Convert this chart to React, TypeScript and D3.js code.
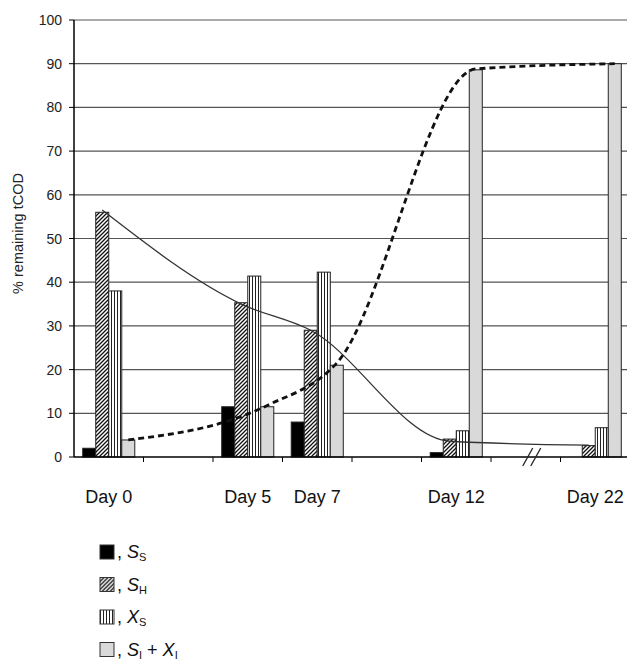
import { useEffect, useRef } from 'react';
import * as d3 from 'd3';

// slot layout on the category axis (empty slots keep the day spacing)
const slotLabels = ['Day 0', '', 'Day 5', 'Day 7', '', 'Day 12', '', 'Day 22'];
const daySlots = [0, 2, 3, 5, 7];

const seriesKeys = ['ss', 'sh', 'xs', 'sixi'];
const ssValues = [2, 11.5, 8, 1, 0];
const shValues = [56, 35.3, 29, 4.1, 2.6];
const xsValues = [38, 41.4, 42.3, 6, 6.7];
const sixiValues = [3.9, 11.5, 21, 88.6, 90];

// model curves
const solidLine = [56.5, 35, 29, 3.6, 2.7]; // drawn through S_H bars
const dashedLine = [3.9, 11.8, 21.5, 88.8, 90]; // drawn through S_I + X_I bars

const yTicks = [0, 10, 20, 30, 40, 50, 60, 70, 80, 90, 100];

const legendItems = [
    { key: 'ss', parts: [{ t: 'S', sub: 'S' }] },
    { key: 'sh', parts: [{ t: 'S', sub: 'H' }] },
    { key: 'xs', parts: [{ t: 'X', sub: 'S' }] },
    { key: 'sixi', parts: [{ t: 'S', sub: 'I' }, { t: ' + ', sub: '' }, { t: 'X', sub: 'I' }] },
];

const width = 627;
const height = 662;
const plot = { left: 74, right: 630, top: 20, bottom: 457 };
const font = "'Liberation Sans', Arial, sans-serif";

const fills: Record<string, string> = {
    ss: '#000',
    sh: 'url(#hatch)',
    xs: 'url(#vstripe)',
    sixi: '#d9d9d9',
};

const App = () => {
    const svgRef = useRef<SVGSVGElement>(null);

    useEffect(() => {
        const root = d3.select(svgRef.current);
        root.selectAll('*').remove();
        root.attr('width', width).attr('height', height);

        const defs = root.append('defs');
        const hatch = defs
            .append('pattern')
            .attr('id', 'hatch')
            .attr('patternUnits', 'userSpaceOnUse')
            .attr('width', 4)
            .attr('height', 4);
        hatch.append('rect').attr('width', 4).attr('height', 4).attr('fill', '#fff');
        hatch
            .append('path')
            .attr('d', 'M-1,1 l2,-2 M0,4 l4,-4 M3,5 l2,-2')
            .attr('stroke', '#111')
            .attr('stroke-width', 1.3);
        const vs = defs
            .append('pattern')
            .attr('id', 'vstripe')
            .attr('patternUnits', 'userSpaceOnUse')
            .attr('width', 3)
            .attr('height', 3);
        vs.append('rect').attr('width', 3).attr('height', 3).attr('fill', '#fff');
        vs.append('rect').attr('x', 0).attr('width', 1).attr('height', 3).attr('fill', '#222');

        const x = d3.scaleBand<number>().domain(d3.range(slotLabels.length)).range([plot.left, plot.right]);
        const xInner = d3
            .scaleBand<string>()
            .domain(seriesKeys)
            .range([0, x.bandwidth()])
            .paddingOuter(0.67);
        const y = d3.scaleLinear().domain([0, 100]).range([plot.bottom, plot.top]);

        // gridlines
        root.append('g')
            .selectAll('line')
            .data(yTicks.filter(d => d > 0))
            .join('line')
            .attr('x1', plot.left)
            .attr('x2', width)
            .attr('y1', d => y(d))
            .attr('y2', d => y(d))
            .attr('stroke', '#555')
            .attr('stroke-width', 1.2);

        // bars
        const seriesValues: Record<string, number[]> = {
            ss: ssValues,
            sh: shValues,
            xs: xsValues,
            sixi: sixiValues,
        };
        const barData = daySlots.flatMap((slot, i) =>
            seriesKeys.map(k => ({ slot, key: k, value: seriesValues[k][i] }))
        );
        root.append('g')
            .selectAll('rect')
            .data(barData.filter(d => d.value > 0))
            .join('rect')
            .attr('x', d => (x(d.slot) ?? 0) + (xInner(d.key) ?? 0))
            .attr('y', d => y(d.value))
            .attr('width', xInner.bandwidth())
            .attr('height', d => y(0) - y(d.value))
            .attr('fill', d => fills[d.key])
            .attr('stroke', '#222')
            .attr('stroke-width', 1);

        // smoothed lines
        const line = d3
            .line<[number, number]>()
            .x(d => d[0])
            .y(d => y(d[1]))
            .curve(d3.curveMonotoneX);
        const pts = (vals: number[], key: string): [number, number][] =>
            vals.map((v, i) => [(x(daySlots[i]) ?? 0) + (xInner(key) ?? 0) + xInner.bandwidth() / 2, v]);

        root.append('path')
            .attr('d', line(pts(solidLine, 'sh')))
            .attr('fill', 'none')
            .attr('stroke', '#333')
            .attr('stroke-width', 1.3);
        root.append('path')
            .attr('d', line(pts(dashedLine, 'sixi')))
            .attr('fill', 'none')
            .attr('stroke', '#111')
            .attr('stroke-width', 2.8)
            .attr('stroke-dasharray', '6 4');

        // axes
        root.append('line')
            .attr('x1', plot.left)
            .attr('x2', plot.left)
            .attr('y1', plot.top)
            .attr('y2', plot.bottom)
            .attr('stroke', '#000')
            .attr('stroke-width', 1.5);
        root.append('line')
            .attr('x1', plot.left)
            .attr('x2', width)
            .attr('y1', plot.bottom)
            .attr('y2', plot.bottom)
            .attr('stroke', '#000')
            .attr('stroke-width', 1.5);

        const yAxis = root.append('g');
        yAxis
            .selectAll('line')
            .data(yTicks)
            .join('line')
            .attr('x1', plot.left - 5)
            .attr('x2', plot.left)
            .attr('y1', d => y(d))
            .attr('y2', d => y(d))
            .attr('stroke', '#000');
        yAxis
            .selectAll('text')
            .data(yTicks)
            .join('text')
            .attr('x', plot.left - 12)
            .attr('y', d => y(d))
            .attr('dy', '0.36em')
            .attr('text-anchor', 'end')
            .attr('font-family', font)
            .attr('font-size', 14)
            .attr('fill', '#222')
            .text(d => d);

        root.append('g')
            .selectAll('line')
            .data(d3.range(1, slotLabels.length))
            .join('line')
            .attr('x1', d => x(d) ?? 0)
            .attr('x2', d => x(d) ?? 0)
            .attr('y1', plot.bottom)
            .attr('y2', plot.bottom + 5)
            .attr('stroke', '#000');

        root.append('g')
            .selectAll('text')
            .data(slotLabels.map((l, i) => ({ l, i })).filter(d => d.l))
            .join('text')
            .attr('x', d => (x(d.i) ?? 0) + x.bandwidth() / 2)
            .attr('y', 503)
            .attr('text-anchor', 'middle')
            .attr('font-family', font)
            .attr('font-size', 18)
            .attr('fill', '#111')
            .text(d => d.l);

        // axis break between Day 12 and Day 22
        const bx = (x(6) ?? 0) + x.bandwidth() / 2 + 6;
        const brk = root.append('g');
        [-4, 4].forEach(off => {
            brk.append('line')
                .attr('x1', bx + off - 5)
                .attr('x2', bx + off + 5)
                .attr('y1', plot.bottom + 9)
                .attr('y2', plot.bottom - 9)
                .attr('stroke', '#222')
                .attr('stroke-width', 1.3);
        });

        // y label
        root.append('text')
            .attr('transform', `translate(23,${(plot.top + plot.bottom) / 2 - 5}) rotate(-90)`)
            .attr('text-anchor', 'middle')
            .attr('font-family', font)
            .attr('font-size', 14.5)
            .attr('fill', '#222')
            .text('% remaining tCOD');

        // legend
        const legend = root.append('g').attr('transform', 'translate(100,545)');
        legendItems.forEach((item, i) => {
            const g = legend.append('g').attr('transform', `translate(0,${i * 32.5})`);
            g.append('rect')
                .attr('width', 14)
                .attr('height', 14)
                .attr('fill', fills[item.key])
                .attr('stroke', '#333')
                .attr('stroke-width', 1);
            const t = g
                .append('text')
                .attr('x', 17)
                .attr('y', 13)
                .attr('font-family', font)
                .attr('font-size', 18)
                .attr('fill', '#111');
            t.append('tspan').text(', ');
            let shift = 0;
            item.parts.forEach(p => {
                t.append('tspan')
                    .attr('font-style', p.sub ? 'italic' : 'normal')
                    .attr('dy', -shift)
                    .text(p.t);
                shift = 0;
                if (p.sub) {
                    t.append('tspan').attr('font-size', 11).attr('dy', 3).text(p.sub);
                    shift = 3;
                }
            });
        });
    }, []);

    return (
        <div style={{ position: 'absolute', left: 0, top: 0 }}>
            <svg ref={svgRef}></svg>
        </div>
    );
};

export default App;
